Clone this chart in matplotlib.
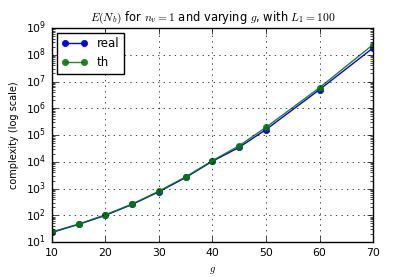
import numpy as np
import matplotlib
matplotlib.use("Agg")
import matplotlib.pyplot as plt

# data
g_vals = [10, 15, 20, 25, 30, 35, 40, 45, 50, 60, 70]
real_vals = [23, 46, 100, 255, 760, 2600, 10500, 35000, 160000, 5.0e6, 1.8e8]
th_vals = [24, 47, 105, 265, 800, 2750, 11000, 40000, 195000, 5.9e6, 2.4e8]

plt.style.use("classic")
plt.rcParams["mathtext.fontset"] = "cm"
plt.rcParams["font.size"] = 7.5

fig = plt.figure(figsize=(4.15, 2.77), dpi=100, facecolor="white")
ax = fig.add_axes([0.125, 0.126, 0.774, 0.773])

ax.plot(g_vals, real_vals, "b-o", label="real", markersize=4.5, linewidth=1.0,
        markeredgecolor="b")
ax.plot(g_vals, th_vals, "g-o", label="th", markersize=4.5, linewidth=1.0,
        markeredgecolor="g", alpha=0.9)

ax.set_yscale("log")
ax.set_xlim(10, 70)
ax.set_ylim(10, 1e9)
ax.set_title(r"$E(N_b)$ for $n_v = 1$ and varying $g$, with $L_1 = 100$",
             fontsize=8.3)
ax.set_xlabel(r"$g$", fontsize=7.5)
ax.set_ylabel("complexity (log scale)", fontsize=7)
ax.tick_params(labelsize=7.8)
ax.grid(True)
ax.legend(loc="upper left", numpoints=2, fontsize=8.5, handlelength=2.2,
          borderaxespad=0.4)

fig.savefig("out.png", dpi=100, facecolor="white")
